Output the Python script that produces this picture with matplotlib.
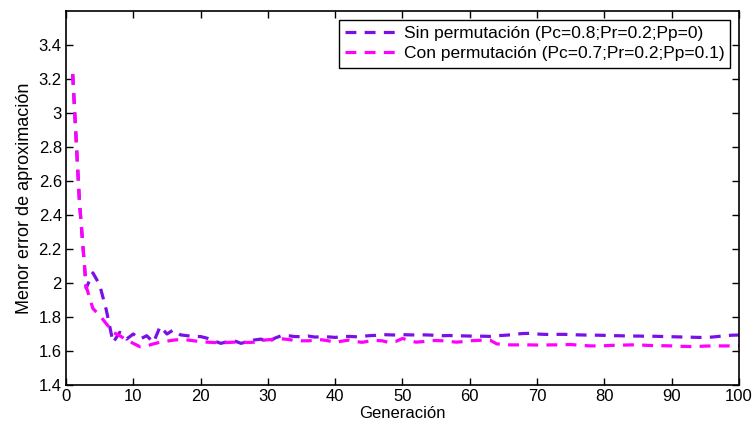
import numpy as np
import matplotlib
matplotlib.use('Agg')
import matplotlib.pyplot as plt

plt.rcParams['font.family'] = ['Liberation Sans', 'DejaVu Sans']

generations = np.arange(1, 101)

# Best approximation error per generation
sin_perm = [3.23, 2.48, 1.97, 2.06, 1.99, 1.84, 1.65, 1.71, 1.67, 1.70,
            1.67, 1.69, 1.65, 1.745, 1.70, 1.725, 1.695, 1.69, 1.685, 1.685,
            1.675, 1.66, 1.645, 1.655, 1.66, 1.645, 1.655, 1.665, 1.67, 1.65,
            1.675, 1.69, 1.69, 1.685, 1.684, 1.688, 1.682, 1.684, 1.683, 1.680,
            1.684, 1.686, 1.684, 1.686, 1.690, 1.692, 1.697, 1.695, 1.694, 1.696,
            1.695, 1.694, 1.695, 1.694, 1.692, 1.690, 1.691, 1.690, 1.689, 1.688,
            1.688, 1.687, 1.686, 1.690, 1.692, 1.695, 1.700, 1.703, 1.704, 1.700,
            1.698, 1.697, 1.698, 1.698, 1.697, 1.695, 1.694, 1.693, 1.693, 1.692,
            1.690, 1.690, 1.689, 1.688, 1.688, 1.687, 1.687, 1.686, 1.685, 1.684,
            1.683, 1.682, 1.681, 1.680, 1.680, 1.682, 1.686, 1.690, 1.693, 1.694]

con_perm = [3.23, 2.48, 1.98, 1.85, 1.81, 1.76, 1.71, 1.69, 1.665, 1.645,
            1.625, 1.63, 1.642, 1.652, 1.658, 1.664, 1.668, 1.665, 1.66, 1.655,
            1.652, 1.650, 1.648, 1.650, 1.652, 1.653, 1.650, 1.652, 1.662, 1.666,
            1.670, 1.672, 1.668, 1.662, 1.660, 1.660, 1.664, 1.666, 1.660, 1.650,
            1.658, 1.664, 1.656, 1.651, 1.658, 1.662, 1.660, 1.650, 1.656, 1.674,
            1.662, 1.652, 1.655, 1.660, 1.662, 1.660, 1.656, 1.652, 1.655, 1.660,
            1.662, 1.664, 1.664, 1.642, 1.638, 1.636, 1.636, 1.636, 1.636, 1.635,
            1.635, 1.636, 1.636, 1.637, 1.638, 1.635, 1.632, 1.630, 1.630, 1.631,
            1.633, 1.634, 1.635, 1.636, 1.636, 1.634, 1.632, 1.631, 1.631, 1.630,
            1.628, 1.627, 1.626, 1.627, 1.629, 1.630, 1.630, 1.630, 1.630, 1.631]

labels = ['Sin permutación (Pc=0.8;Pr=0.2;Pp=0)',
          'Con permutación (Pc=0.7;Pr=0.2;Pp=0.1)']
colors = ['#7a10e6', '#ff00ff']

fig = plt.figure(figsize=(7.53, 4.29), dpi=100)
ax = fig.add_axes([0.0876, 0.1026, 0.8938, 0.8714])

ax.plot(generations, sin_perm, '--', color=colors[0], lw=2.3, dashes=(3.4, 2.6), label=labels[0])
ax.plot(generations, con_perm, '--', color=colors[1], lw=2.3, dashes=(3.4, 2.6), label=labels[1])

ax.set_xlim(0, 100)
ax.set_ylim(1.4, 3.6)
ax.set_xticks(np.arange(0, 101, 10))
ax.set_yticks(np.arange(1.4, 3.41, 0.2))
ax.set_yticklabels(['1.4', '1.6', '1.8', '2', '2.2', '2.4', '2.6', '2.8', '3', '3.2', '3.4'])
ax.tick_params(direction='in', top=True, right=True, labelsize=12, length=5, width=1, pad=3)
for s in ax.spines.values():
    s.set_linewidth(1.2)

ax.set_xlabel('Generación', fontsize=12, labelpad=1)
ax.set_ylabel('Menor error de aproximación', fontsize=13, labelpad=4)

leg = ax.legend(loc='upper right', fontsize=12.5, fancybox=False, framealpha=1,
                edgecolor='black', borderaxespad=0.5, handlelength=2.9,
                borderpad=0.35, labelspacing=0.3, handletextpad=0.45)
leg.get_frame().set_linewidth(1.0)

fig.savefig('out.png', dpi=100)
